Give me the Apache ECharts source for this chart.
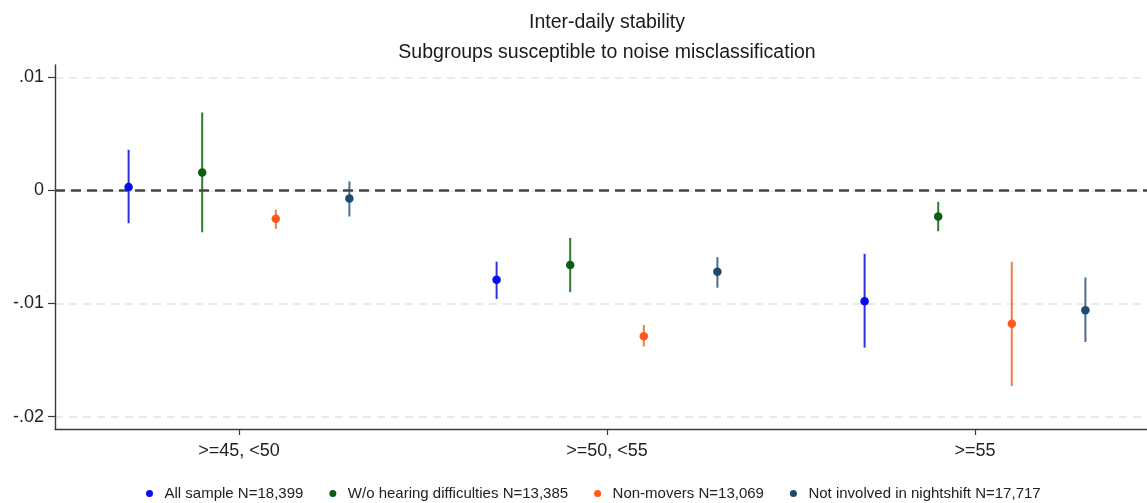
<!DOCTYPE html>
<html>
<head>
<meta charset="utf-8">
<title>Inter-daily stability</title>
<script src="https://cdn.jsdelivr.net/npm/echarts@6/dist/echarts.min.js"></script>
<style>
  html, body { margin: 0; padding: 0; background: #fff; }
  #chart { width: 1147px; height: 503px; }
</style>
</head>
<body>
<div id="chart"></div>
<script>
// Age groups on the horizontal axis
const categories = ['>=45, <50', '>=50, <55', '>=55'];

// Subgroup names (legend entries)
const subgroupNames = [
  'All sample N=18,399',
  'W/o hearing difficulties N=13,385',
  'Non-movers N=13,069',
  'Not involved in nightshift N=17,717'
];

// Point estimates and confidence bounds, one value per age group
const allEst = [0.0003, -0.0079, -0.0098];
const allLo  = [-0.0029, -0.0096, -0.0139];
const allHi  = [0.0036, -0.0063, -0.0056];

const hearEst = [0.0016, -0.0066, -0.0023];
const hearLo  = [-0.0037, -0.0090, -0.0036];
const hearHi  = [0.0069, -0.0042, -0.0010];

const moveEst = [-0.0025, -0.0129, -0.0118];
const moveLo  = [-0.0034, -0.0138, -0.0173];
const moveHi  = [-0.0017, -0.0119, -0.0063];

const nightEst = [-0.0007, -0.0072, -0.0106];
const nightLo  = [-0.0023, -0.0086, -0.0134];
const nightHi  = [0.0008, -0.0059, -0.0077];

// Vertical axis ticks and their labels
const yTicks = [-0.02, -0.01, 0, 0.01];
const yTickLabels = ['-.02', '-.01', '0', '.01'];

const FONT = '"Liberation Sans", Arial, sans-serif';

const groups = [
  { est: allEst,   lo: allLo,   hi: allHi,   dot: '#0a0af0', bar: '#3030d8' },
  { est: hearEst,  lo: hearLo,  hi: hearHi,  dot: '#0b5e12', bar: '#2f7d2f' },
  { est: moveEst,  lo: moveLo,  hi: moveHi,  dot: '#ff5a1a', bar: '#f07a48' },
  { est: nightEst, lo: nightLo, hi: nightHi, dot: '#1f4a70', bar: '#4f6e8c' }
];

// Horizontal slot of subgroup k within a category (category c sits at c + 1)
const slot = (c, k) => c + 1 + (k - 1.5) * 0.2;

const series = [];

groups.forEach((g, k) => {
  const ciData = categories.map((_, c) => [slot(c, k), g.lo[c], g.hi[c]]);
  const ci = {
    name: subgroupNames[k] + ' (CI)',
    type: 'custom',
    xAxisIndex: 1,
    yAxisIndex: 0,
    z: 3,
    silent: true,
    encode: { x: 0, y: [1, 2] },
    data: ciData,
    renderItem: (params, api) => {
      const a = api.coord([api.value(0), api.value(1)]);
      const b = api.coord([api.value(0), api.value(2)]);
      return {
        type: 'line',
        shape: { x1: a[0], y1: a[1], x2: b[0], y2: b[1] },
        style: { stroke: g.bar, lineWidth: 2 }
      };
    }
  };
  if (k === 0) {
    // Reference line at zero
    ci.markLine = {
      silent: true,
      symbol: ['none', 'none'],
      label: { show: false },
      z: 4,
      lineStyle: { color: '#444', width: 2.5, type: [10, 6] },
      emphasis: { disabled: true },
      data: [{ yAxis: 0 }]
    };
  }
  series.push(ci);
});

groups.forEach((g, k) => {
  series.push({
    name: subgroupNames[k],
    type: 'scatter',
    xAxisIndex: 1,
    yAxisIndex: 0,
    z: 6,
    symbol: 'circle',
    symbolSize: 8.5,
    itemStyle: { color: g.dot, opacity: 1 },
    data: categories.map((_, c) => [slot(c, k), g.est[c]])
  });
});

const chart = echarts.init(document.getElementById('chart'), null, { renderer: 'canvas' });

chart.setOption({
  animation: false,
  backgroundColor: '#ffffff',
  graphic: [
    {
      type: 'text', x: 607, y: 23,
      style: {
        text: 'Inter-daily stability', textAlign: 'center', textVerticalAlign: 'middle',
        font: '19.5px ' + FONT, fill: '#1a1a1a'
      }
    },
    {
      type: 'text', x: 607, y: 53,
      style: {
        text: 'Subgroups susceptible to noise misclassification', textAlign: 'center', textVerticalAlign: 'middle',
        font: '19.5px ' + FONT, fill: '#1a1a1a'
      }
    }
  ],
  grid: {
    left: 55, right: -12, top: 65, bottom: 74,
    containLabel: false,
    outerBoundsMode: 'none'
  },
  legend: {
    data: subgroupNames,
    left: 141,
    top: 481,
    icon: 'circle',
    itemWidth: 20,
    itemHeight: 7,
    itemGap: 26,
    selectedMode: false,
    textStyle: { fontFamily: FONT, fontSize: 15, color: '#222', padding: [0, 0, 0, 0] }
  },
  xAxis: [
    {
      type: 'category',
      data: categories,
      boundaryGap: true,
      axisLine: { show: true, onZero: false, lineStyle: { color: '#3a3a3a', width: 1.4 } },
      axisTick: { show: true, alignWithLabel: true, length: 6, lineStyle: { color: '#3a3a3a', width: 1.2 } },
      axisLabel: { fontFamily: FONT, fontSize: 18, color: '#222', margin: 13 },
      splitLine: { show: false }
    },
    {
      type: 'value',
      min: 0.5,
      max: 3.5,
      show: false
    }
  ],
  yAxis: {
    type: 'value',
    min: -0.0211,
    max: 0.0111,
    axisLine: { show: true, onZero: false, lineStyle: { color: '#3a3a3a', width: 1.4 } },
    axisTick: { show: true, length: 7, customValues: yTicks, lineStyle: { color: '#3a3a3a', width: 1.2 } },
    axisLabel: {
      customValues: yTicks,
      fontFamily: FONT, fontSize: 18, color: '#222', margin: 11,
      formatter: (v) => {
        const i = yTicks.findIndex(t => Math.abs(t - v) < 1e-9);
        return i >= 0 ? yTickLabels[i] : '';
      }
    },
    splitLine: { show: true, lineStyle: { color: '#e4e4e4', width: 1.5, type: [8, 6] } }
  },
  series: series
});
</script>
</body>
</html>
